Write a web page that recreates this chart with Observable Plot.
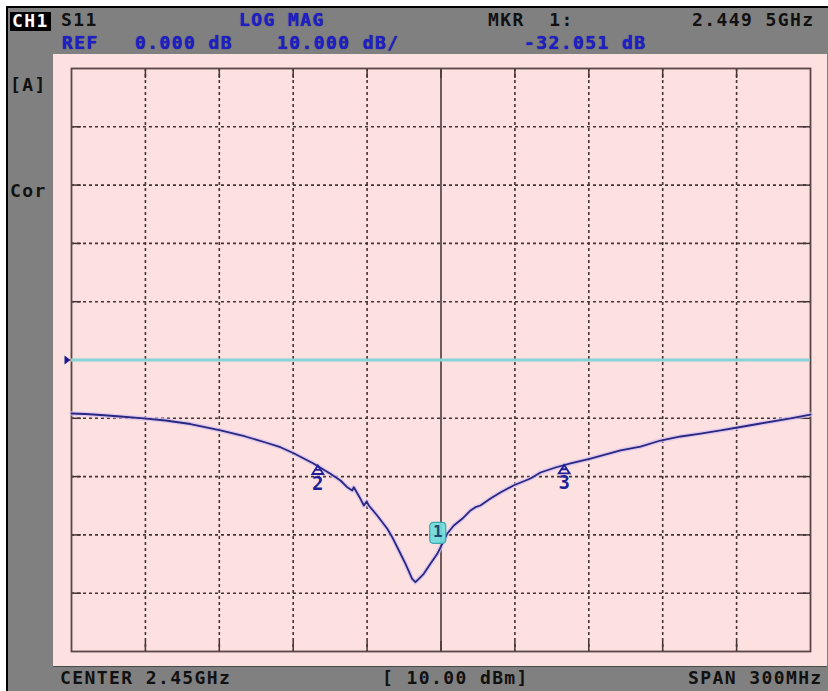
<!DOCTYPE html>
<html>
<head>
<meta charset="utf-8">
<script src="https://cdn.jsdelivr.net/npm/d3@7"></script>
<script src="https://cdn.jsdelivr.net/npm/@observablehq/plot@0.6"></script>
<style>
  html, body { margin: 0; padding: 0; background: #ffffff; }
  #screen { position: relative; width: 828px; height: 691px; overflow: hidden; background: #ffffff; }
  #panel { position: absolute; left: 6px; top: 6px; width: 822px; height: 685px; box-sizing: border-box;
           background: #808080; border-left: 2px solid #000; border-top: 2px solid #000; }
  #plotarea { position: absolute; left: 53px; top: 54px; width: 774px; height: 612px; background: #fde1e1;
              box-shadow: 0 1px 0 #4a4a4a; }
  .t { position: absolute; font-family: "DejaVu Sans Mono", monospace; font-weight: bold; font-size: 18px;
       line-height: 18px; letter-spacing: 1.4px; white-space: pre; color: #111; }
  .b { color: #1f1fc8; text-shadow: 0 0 1px #101070; }
  .inv { background: #000; color: #fff; padding: 0px 2px 1px 2px; }
</style>
</head>
<body>
<div id="screen">
  <div id="panel"></div>
  <div id="plotarea"></div>
</div>
<script>
// ---- data ----
const freqGHz = [2.3000, 2.3057, 2.3118, 2.3199, 2.3292, 2.3382, 2.3483, 2.3605, 2.3706, 2.3788,
  2.3848, 2.3902, 2.3984, 2.4051, 2.4092, 2.4119, 2.4140, 2.4146, 2.4173, 2.4187,
  2.4198, 2.4207, 2.4241, 2.4282, 2.4302, 2.4329, 2.4356, 2.4383, 2.4396, 2.4410,
  2.4430, 2.4457, 2.4485, 2.4505, 2.4525, 2.4552, 2.4586, 2.4620, 2.4640, 2.4660,
  2.4701, 2.4741, 2.4794, 2.4863, 2.4904, 2.4965, 2.5026, 2.5107, 2.5229, 2.5310,
  2.5391, 2.5473, 2.5554, 2.5635, 2.5704, 2.5797, 2.5919, 2.6000];
const magDB = [-9.18, -9.26, -9.43, -9.69, -10.03, -10.38, -10.98, -12.09, -13.12, -14.15,
  -14.96, -15.99, -17.80, -19.52, -20.67, -21.82, -22.38, -21.82, -23.81, -24.96,
  -24.27, -24.96, -26.67, -28.95, -30.39, -32.68, -34.96, -37.53, -38.11, -37.53,
  -36.67, -34.96, -33.24, -31.53, -29.81, -28.39, -27.24, -25.81, -25.25, -24.96,
  -23.76, -22.73, -21.53, -20.33, -19.30, -18.44, -17.75, -16.90, -15.52, -14.84,
  -13.81, -13.12, -12.61, -12.09, -11.58, -10.89, -10.03, -9.35];

const xDomain = [2.30, 2.60];   // CENTER 2.45 GHz, SPAN 300 MHz
const yDomain = [-50, 50];      // REF 0 dB, 10 dB/div
const xGrid = [2.33, 2.36, 2.39, 2.42, 2.48, 2.51, 2.54, 2.57];
const xCenter = [2.45];
const yGrid = [-40, -30, -20, -10, 10, 20, 30, 40];
const yRef = [0];

const mkrIds = ["1", "2", "3"];
const mkrFreq = [2.4495, 2.40, 2.50];
const mkrDB = [-32.051, -18.1, -18.0];

const headerTexts = [
  {txt: "CH1", x: 10, y: 12, cls: "inv"},
  {txt: "S11", x: 61, y: 11, cls: ""},
  {txt: "LOG MAG", x: 239, y: 11, cls: "b"},
  {txt: "MKR  1:", x: 488, y: 11, cls: ""},
  {txt: "2.449 5GHz", x: 692, y: 11, cls: ""},
  {txt: "REF", x: 62, y: 34, cls: "b"},
  {txt: "0.000 dB", x: 135, y: 34, cls: "b"},
  {txt: "10.000 dB/", x: 277, y: 34, cls: "b"},
  {txt: "-32.051 dB", x: 524, y: 34, cls: "b"},
  {txt: "[A]", x: 10, y: 76, cls: ""},
  {txt: "Cor", x: 10, y: 182, cls: ""},
  {txt: "CENTER 2.45GHz", x: 60, y: 669, cls: ""},
  {txt: "[ 10.00 dBm]", x: 382, y: 669, cls: ""},
  {txt: "SPAN 300MHz", x: 688, y: 669, cls: ""}
];

// ---- texts ----
const screen = document.getElementById("screen");
for (const h of headerTexts) {
  const s = document.createElement("div");
  s.className = "t " + h.cls;
  s.textContent = h.txt;
  s.style.left = h.x + "px";
  s.style.top = h.y + "px";
  screen.appendChild(s);
}

// ---- custom symbols ----
const deltaSymbol = { draw(ctx) {
  ctx.moveTo(0, 0); ctx.lineTo(5.5, 8.5); ctx.lineTo(-5.5, 8.5); ctx.closePath();
  ctx.moveTo(-2.8, 4.3); ctx.lineTo(2.8, 4.3);
}};
const boxSymbol = { draw(ctx) {
  const w = 8, h = 10.5, r = 3.5;
  ctx.moveTo(-w + r, -h); ctx.lineTo(w - r, -h); ctx.arcTo(w, -h, w, -h + r, r);
  ctx.lineTo(w, h - r); ctx.arcTo(w, h, w - r, h, r); ctx.lineTo(-w + r, h);
  ctx.arcTo(-w, h, -w, h - r, r); ctx.lineTo(-w, -h + r); ctx.arcTo(-w, -h, -w + r, -h, r); ctx.closePath();
}};
const refArrow = { draw(ctx) {
  ctx.moveTo(4, 0); ctx.lineTo(-2, -4.5); ctx.lineTo(-2, 4.5); ctx.closePath();
}};

const trace = freqGHz.map((f, i) => ({f, db: magDB[i]}));
const markers = mkrIds.map((id, i) => ({id, f: mkrFreq[i], db: mkrDB[i]}));
const deltaMarkers = markers.filter(d => d.id !== "1");
const activeMarker = markers.filter(d => d.id === "1");
const edgeX = xGrid.concat(xCenter);
const edgeY = yGrid.concat(yRef);

const gridColor = "#453434";
const W = 774, H = 612, mL = 18, mR = 17, mT = 14, mB = 15;
const fw = W - mL - mR, fh = H - mT - mB;

const chart = Plot.plot({
  width: W, height: H,
  marginLeft: mL, marginRight: mR, marginTop: mT, marginBottom: mB,
  x: {domain: xDomain, axis: null},
  y: {domain: yDomain, axis: null},
  style: {background: "transparent", overflow: "visible"},
  marks: [
    Plot.ruleX(xGrid, {stroke: gridColor, strokeWidth: 1.6, strokeDasharray: "3,3"}),
    Plot.ruleY(yGrid, {stroke: gridColor, strokeWidth: 1.6, strokeDasharray: "3,3"}),
    // edge ticks
    Plot.ruleX(edgeX, {stroke: gridColor, strokeWidth: 1.5, insetTop: fh - 10}),
    Plot.ruleX(edgeX, {stroke: gridColor, strokeWidth: 1.5, insetBottom: fh - 10}),
    Plot.ruleY(edgeY, {stroke: gridColor, strokeWidth: 1.5, insetRight: fw - 10}),
    Plot.ruleY(edgeY, {stroke: gridColor, strokeWidth: 1.5, insetLeft: fw - 10}),
    Plot.ruleX(xCenter, {stroke: "#4a3a3a", strokeWidth: 1.6}),
    Plot.frame({stroke: "#5a4646", strokeWidth: 1.8}),
    // reference line
    Plot.ruleY(yRef, {stroke: "#84d4d8", strokeWidth: 3}),
    Plot.dot([{f: xDomain[0], db: 0}], {x: "f", y: "db", symbol: refArrow, fill: "#1a1a90", stroke: "none", dx: -5}),
    // trace
    Plot.line(trace, {x: "f", y: "db", stroke: "#d6bdf2", strokeWidth: 4.5, strokeOpacity: 0.75}),
    Plot.line(trace, {x: "f", y: "db", stroke: "#28287f", strokeWidth: 1.8}),
    // delta markers
    Plot.dot(deltaMarkers, {x: "f", y: "db", symbol: deltaSymbol, fill: "none", stroke: "#1f1f9a", strokeWidth: 1.8}),
    Plot.text(deltaMarkers, {x: "f", y: "db", text: "id", dy: 18, fill: "#1f1f9a",
      fontFamily: "DejaVu Sans Mono", fontWeight: "bold", fontSize: 19}),
    // active marker 1
    Plot.dot(activeMarker, {x: "f", y: "db", symbol: boxSymbol, fill: "#6fdcdc", fillOpacity: 0.92,
      stroke: "#3aa8ac", strokeWidth: 1.2, dx: -2, dy: -14}),
    Plot.text(activeMarker, {x: "f", y: "db", text: "id", dx: -2, dy: -15, fill: "#1d4a70",
      fontFamily: "DejaVu Sans Mono", fontWeight: "bold", fontSize: 16})
  ]
});
chart.style.position = "absolute";
chart.style.left = "0px";
chart.style.top = "0px";
document.getElementById("plotarea").appendChild(chart);
</script>
</body>
</html>
